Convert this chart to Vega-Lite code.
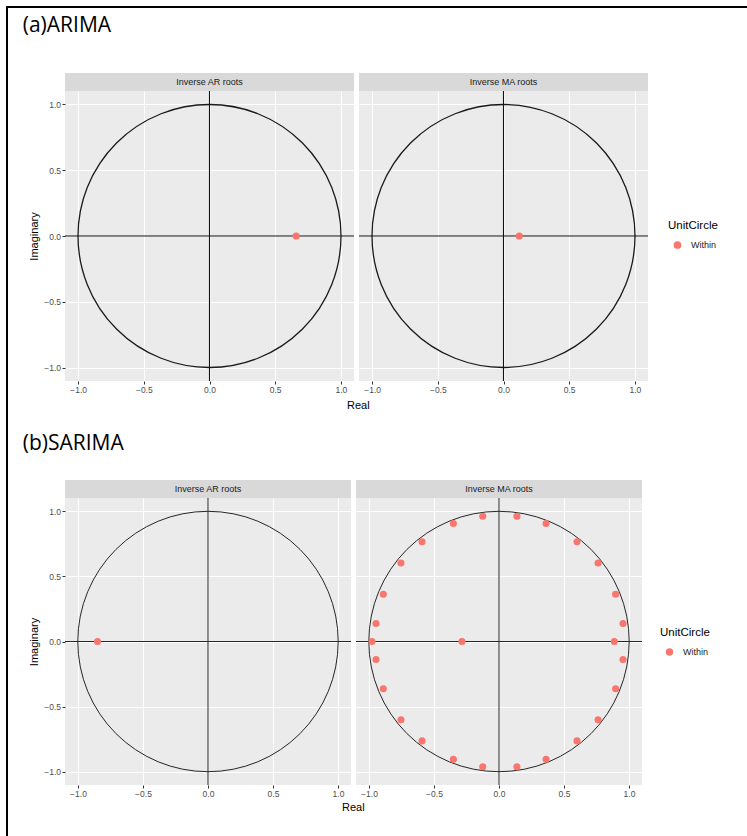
{
  "$schema": "https://vega.github.io/schema/vega-lite/v6.json",
  "padding": {"left": 6, "top": 6, "right": 0, "bottom": 0},
  "background": "#FFFFFF",
  "datasets": {
    "arima_ar": [{"re": 0.66, "im": 0, "UnitCircle": "Within"}],
    "arima_ma": [{"re": 0.12, "im": 0, "UnitCircle": "Within"}],
    "sarima_ar": [{"re": -0.85, "im": 0, "UnitCircle": "Within"}],
    "sarima_ma": [
      {"re": -0.125, "im": 0.96, "UnitCircle": "Within"},
      {"re": 0.138, "im": 0.96, "UnitCircle": "Within"},
      {"re": -0.351, "im": 0.904, "UnitCircle": "Within"},
      {"re": 0.362, "im": 0.904, "UnitCircle": "Within"},
      {"re": -0.592, "im": 0.765, "UnitCircle": "Within"},
      {"re": 0.6, "im": 0.765, "UnitCircle": "Within"},
      {"re": -0.754, "im": 0.602, "UnitCircle": "Within"},
      {"re": 0.762, "im": 0.602, "UnitCircle": "Within"},
      {"re": -0.89, "im": 0.362, "UnitCircle": "Within"},
      {"re": 0.897, "im": 0.362, "UnitCircle": "Within"},
      {"re": -0.946, "im": 0.138, "UnitCircle": "Within"},
      {"re": 0.954, "im": 0.138, "UnitCircle": "Within"},
      {"re": -0.977, "im": 0, "UnitCircle": "Within"},
      {"re": -0.285, "im": 0, "UnitCircle": "Within"},
      {"re": 0.887, "im": 0, "UnitCircle": "Within"},
      {"re": -0.946, "im": -0.138, "UnitCircle": "Within"},
      {"re": 0.954, "im": -0.138, "UnitCircle": "Within"},
      {"re": -0.89, "im": -0.362, "UnitCircle": "Within"},
      {"re": 0.897, "im": -0.362, "UnitCircle": "Within"},
      {"re": -0.754, "im": -0.6, "UnitCircle": "Within"},
      {"re": 0.762, "im": -0.6, "UnitCircle": "Within"},
      {"re": -0.592, "im": -0.762, "UnitCircle": "Within"},
      {"re": 0.6, "im": -0.762, "UnitCircle": "Within"},
      {"re": -0.351, "im": -0.902, "UnitCircle": "Within"},
      {"re": 0.362, "im": -0.902, "UnitCircle": "Within"},
      {"re": -0.125, "im": -0.961, "UnitCircle": "Within"},
      {"re": 0.138, "im": -0.961, "UnitCircle": "Within"}
    ]
  },
  "config": {
    "view": {"stroke": null},
    "font": "Liberation Sans",
    "axis": {
      "grid": true,
      "gridColor": "#FFFFFF",
      "domain": false,
      "tickColor": "#333333",
      "tickSize": 3,
      "tickWidth": 1,
      "labelFont": "Liberation Sans",
      "labelFontSize": 8.5,
      "labelColor": "#4D4D4D",
      "labelPadding": 1.5,
      "labelOverlap": false,
      "labelFlush": false,
      "labelBound": false,
      "titleFont": "Liberation Sans",
      "titleFontSize": 11,
      "titleFontWeight": "normal",
      "titleColor": "#000000",
      "titlePadding": 4
    }
  },
  "spacing": 0,
  "resolve": {"scale": {"color": "independent"}},
  "vconcat": [
    {
      "width": 741, "height": 2,
      "view": {"fill": "#000000", "stroke": null},
      "data": {"values": []},
      "mark": "point"
    },
    {
      "spacing": 14,
      "resolve": {"scale": {"color": "independent"}},
      "hconcat": [
        {
          "width": 2, "height": 828,
          "view": {"fill": "#000000", "stroke": null},
          "data": {"values": []},
          "mark": "point"
        },
        {
          "spacing": 0,
          "resolve": {"scale": {"color": "independent"}},
          "vconcat": [
            {"width": 1, "height": 7, "view": {"stroke": null}, "data": {"values": []}, "mark": "point"},
            {
              "title": {"text": "(a)ARIMA", "anchor": "start", "frame": "bounds", "dx": -6, "offset": 37, "font": "Open Sans", "fontSize": 21, "fontWeight": "normal", "color": "#000000"},
              "resolve": {"scale": {"color": "independent"}},
              "vconcat": [
                {
                  "title": {"text": "Real", "orient": "bottom", "anchor": "middle", "offset": 6, "dx": -15, "font": "Liberation Sans", "fontSize": 11, "fontWeight": "normal", "color": "#000000"},
                  "spacing": 3,
                  "resolve": {"scale": {"color": "independent"}},
                  "hconcat": [
                    {
                      "spacing": 0,
                      "bounds": "flush",
                      "resolve": {"scale": {"color": "independent"}},
                      "vconcat": [
                        {
                          "width": 289, "height": 18,
                          "view": {"fill": "#D9D9D9", "stroke": null},
                          "data": {"values": [{"strip": "Inverse AR roots"}]},
                          "mark": {"type": "text", "font": "Liberation Sans", "fontSize": 9, "color": "#1A1A1A", "baseline": "middle"},
                          "encoding": {"text": {"field": "strip"}}
                        },
                        {
                          "width": 289, "height": 290,
                          "view": {"fill": "#EBEBEB", "stroke": null},
                          "layer": [
                            {
                              "data": {"name": "arima_ar"},
                              "mark": {"type": "point", "shape": "circle", "filled": true, "opacity": 0},
                              "encoding": {
                                "x": {"field": "re", "type": "quantitative", "scale": {"domain": [-1.1, 1.1], "nice": false, "zero": false},
                                  "axis": {"values": [-1, -0.75, -0.5, -0.25, 0, 0.25, 0.5, 0.75, 1], "title": null,
                                    "labelExpr": "abs(datum.value*2-round(datum.value*2))<0.01 ? format(datum.value,'.1f') : ''",
                                    "gridWidth": {"condition": {"test": "abs(datum.value*2-round(datum.value*2))>0.01", "value": 0.6}, "value": 1.1},
                                    "tickOpacity": {"condition": {"test": "abs(datum.value*2-round(datum.value*2))>0.01", "value": 0}, "value": 1}}},
                                "y": {"field": "im", "type": "quantitative", "scale": {"domain": [-1.1, 1.1], "nice": false, "zero": false},
                                  "axis": {"values": [-1, -0.75, -0.5, -0.25, 0, 0.25, 0.5, 0.75, 1], "title": "Imaginary",
                                    "labelExpr": "abs(datum.value*2-round(datum.value*2))<0.01 ? format(datum.value,'.1f') : ''",
                                    "gridWidth": {"condition": {"test": "abs(datum.value*2-round(datum.value*2))>0.01", "value": 0.6}, "value": 1.1},
                                    "tickOpacity": {"condition": {"test": "abs(datum.value*2-round(datum.value*2))>0.01", "value": 0}, "value": 1}}}
                              }
                            },
                            {
                              "data": {"values": [{}]},
                              "mark": {"type": "point", "shape": "circle", "filled": false, "stroke": "#1A1A1A", "strokeWidth": 1.3, "opacity": 1, "size": 69169},
                              "encoding": {"x": {"datum": 0, "type": "quantitative"}, "y": {"datum": 0, "type": "quantitative"}}
                            },
                            {
                              "data": {"values": [{}]},
                              "mark": {"type": "rule", "color": "#111111", "strokeWidth": 1.1},
                              "encoding": {"x": {"datum": 0, "type": "quantitative"}}
                            },
                            {
                              "data": {"values": [{}]},
                              "mark": {"type": "rule", "color": "#111111", "strokeWidth": 1.1},
                              "encoding": {"y": {"datum": 0, "type": "quantitative"}}
                            },
                            {
                              "data": {"name": "arima_ar"},
                              "mark": {"type": "point", "shape": "circle", "filled": true, "opacity": 1, "size": 52},
                              "encoding": {
                                "x": {"field": "re", "type": "quantitative"},
                                "y": {"field": "im", "type": "quantitative"},
                                "color": {"field": "UnitCircle", "type": "nominal", "scale": {"domain": ["Within"], "range": ["#F8766D"]}, "legend": null}
                              }
                            }
                          ]
                        }
                      ]
                    },
                    {
                      "spacing": 0,
                      "bounds": "flush",
                      "resolve": {"scale": {"color": "independent"}},
                      "vconcat": [
                        {
                          "width": 289, "height": 18,
                          "view": {"fill": "#D9D9D9", "stroke": null},
                          "data": {"values": [{"strip": "Inverse MA roots"}]},
                          "mark": {"type": "text", "font": "Liberation Sans", "fontSize": 9, "color": "#1A1A1A", "baseline": "middle"},
                          "encoding": {"text": {"field": "strip"}}
                        },
                        {
                          "width": 289, "height": 290,
                          "view": {"fill": "#EBEBEB", "stroke": null},
                          "layer": [
                            {
                              "data": {"name": "arima_ma"},
                              "mark": {"type": "point", "shape": "circle", "filled": true, "opacity": 0},
                              "encoding": {
                                "x": {"field": "re", "type": "quantitative", "scale": {"domain": [-1.1, 1.1], "nice": false, "zero": false},
                                  "axis": {"values": [-1, -0.75, -0.5, -0.25, 0, 0.25, 0.5, 0.75, 1], "title": null,
                                    "labelExpr": "abs(datum.value*2-round(datum.value*2))<0.01 ? format(datum.value,'.1f') : ''",
                                    "gridWidth": {"condition": {"test": "abs(datum.value*2-round(datum.value*2))>0.01", "value": 0.6}, "value": 1.1},
                                    "tickOpacity": {"condition": {"test": "abs(datum.value*2-round(datum.value*2))>0.01", "value": 0}, "value": 1}}},
                                "y": {"field": "im", "type": "quantitative", "scale": {"domain": [-1.1, 1.1], "nice": false, "zero": false},
                                  "axis": {"values": [-1, -0.75, -0.5, -0.25, 0, 0.25, 0.5, 0.75, 1], "title": null, "labels": false, "ticks": false,
                                    "gridWidth": {"condition": {"test": "abs(datum.value*2-round(datum.value*2))>0.01", "value": 0.6}, "value": 1.1}}}
                              }
                            },
                            {
                              "data": {"values": [{}]},
                              "mark": {"type": "point", "shape": "circle", "filled": false, "stroke": "#1A1A1A", "strokeWidth": 1.3, "opacity": 1, "size": 69169},
                              "encoding": {"x": {"datum": 0, "type": "quantitative"}, "y": {"datum": 0, "type": "quantitative"}}
                            },
                            {
                              "data": {"values": [{}]},
                              "mark": {"type": "rule", "color": "#111111", "strokeWidth": 1.1},
                              "encoding": {"x": {"datum": 0, "type": "quantitative"}}
                            },
                            {
                              "data": {"values": [{}]},
                              "mark": {"type": "rule", "color": "#111111", "strokeWidth": 1.1},
                              "encoding": {"y": {"datum": 0, "type": "quantitative"}}
                            },
                            {
                              "data": {"name": "arima_ma"},
                              "mark": {"type": "point", "shape": "circle", "filled": true, "opacity": 1, "size": 52},
                              "encoding": {
                                "x": {"field": "re", "type": "quantitative"},
                                "y": {"field": "im", "type": "quantitative"},
                                "color": {"field": "UnitCircle", "type": "nominal", "scale": {"domain": ["Within"], "range": ["#F8766D"]},
                                  "legend": {"orient": "none", "legendX": 309, "legendY": 129, "title": "UnitCircle", "padding": 0,
                                    "titleFont": "Liberation Sans", "titleFontSize": 11.5, "titleFontWeight": "normal", "titleColor": "#000000", "titlePadding": 9,
                                    "labelFont": "Liberation Sans", "labelFontSize": 9, "labelColor": "#1A1A1A",
                                    "symbolType": "circle", "symbolSize": 60, "symbolStrokeWidth": 0, "symbolOffset": 5, "labelOffset": 9}}
                              }
                            }
                          ]
                        }
                      ]
                    }
                  ]
                }
              ]
            },
            {"width": 1, "height": 22, "view": {"stroke": null}, "data": {"values": []}, "mark": "point"},
            {
              "title": {"text": "(b)SARIMA", "anchor": "start", "frame": "bounds", "dx": -6, "offset": 26, "font": "Open Sans", "fontSize": 21, "fontWeight": "normal", "color": "#000000"},
              "resolve": {"scale": {"color": "independent"}},
              "vconcat": [
                {
                  "title": {"text": "Real", "orient": "bottom", "anchor": "middle", "offset": 4, "dx": -16, "font": "Liberation Sans", "fontSize": 11, "fontWeight": "normal", "color": "#000000"},
                  "spacing": 3,
                  "resolve": {"scale": {"color": "independent"}},
                  "hconcat": [
                    {
                      "spacing": 0,
                      "bounds": "flush",
                      "resolve": {"scale": {"color": "independent"}},
                      "vconcat": [
                        {
                          "width": 286, "height": 18,
                          "view": {"fill": "#D9D9D9", "stroke": null},
                          "data": {"values": [{"strip": "Inverse AR roots"}]},
                          "mark": {"type": "text", "font": "Liberation Sans", "fontSize": 9, "color": "#1A1A1A", "baseline": "middle"},
                          "encoding": {"text": {"field": "strip"}}
                        },
                        {
                          "width": 286, "height": 287,
                          "view": {"fill": "#EBEBEB", "stroke": null},
                          "layer": [
                            {
                              "data": {"name": "sarima_ar"},
                              "mark": {"type": "point", "shape": "circle", "filled": true, "opacity": 0},
                              "encoding": {
                                "x": {"field": "re", "type": "quantitative", "scale": {"domain": [-1.1, 1.1], "nice": false, "zero": false},
                                  "axis": {"values": [-1, -0.75, -0.5, -0.25, 0, 0.25, 0.5, 0.75, 1], "title": null,
                                    "labelExpr": "abs(datum.value*2-round(datum.value*2))<0.01 ? format(datum.value,'.1f') : ''",
                                    "gridWidth": {"condition": {"test": "abs(datum.value*2-round(datum.value*2))>0.01", "value": 0.6}, "value": 1.1},
                                    "tickOpacity": {"condition": {"test": "abs(datum.value*2-round(datum.value*2))>0.01", "value": 0}, "value": 1}}},
                                "y": {"field": "im", "type": "quantitative", "scale": {"domain": [-1.1, 1.1], "nice": false, "zero": false},
                                  "axis": {"values": [-1, -0.75, -0.5, -0.25, 0, 0.25, 0.5, 0.75, 1], "title": "Imaginary",
                                    "labelExpr": "abs(datum.value*2-round(datum.value*2))<0.01 ? format(datum.value,'.1f') : ''",
                                    "gridWidth": {"condition": {"test": "abs(datum.value*2-round(datum.value*2))>0.01", "value": 0.6}, "value": 1.1},
                                    "tickOpacity": {"condition": {"test": "abs(datum.value*2-round(datum.value*2))>0.01", "value": 0}, "value": 1}}}
                              }
                            },
                            {
                              "data": {"values": [{}]},
                              "mark": {"type": "point", "shape": "circle", "filled": false, "stroke": "#262626", "strokeWidth": 1, "opacity": 1, "size": 67808},
                              "encoding": {"x": {"datum": 0, "type": "quantitative"}, "y": {"datum": 0, "type": "quantitative"}}
                            },
                            {
                              "data": {"values": [{}]},
                              "mark": {"type": "rule", "color": "#262626", "strokeWidth": 1},
                              "encoding": {"x": {"datum": 0, "type": "quantitative"}}
                            },
                            {
                              "data": {"values": [{}]},
                              "mark": {"type": "rule", "color": "#262626", "strokeWidth": 1},
                              "encoding": {"y": {"datum": 0, "type": "quantitative"}}
                            },
                            {
                              "data": {"name": "sarima_ar"},
                              "mark": {"type": "point", "shape": "circle", "filled": true, "opacity": 1, "size": 50},
                              "encoding": {
                                "x": {"field": "re", "type": "quantitative"},
                                "y": {"field": "im", "type": "quantitative"},
                                "color": {"field": "UnitCircle", "type": "nominal", "scale": {"domain": ["Within"], "range": ["#F8766D"]}, "legend": null}
                              }
                            }
                          ]
                        }
                      ]
                    },
                    {
                      "spacing": 0,
                      "bounds": "flush",
                      "resolve": {"scale": {"color": "independent"}},
                      "vconcat": [
                        {
                          "width": 286, "height": 18,
                          "view": {"fill": "#D9D9D9", "stroke": null},
                          "data": {"values": [{"strip": "Inverse MA roots"}]},
                          "mark": {"type": "text", "font": "Liberation Sans", "fontSize": 9, "color": "#1A1A1A", "baseline": "middle"},
                          "encoding": {"text": {"field": "strip"}}
                        },
                        {
                          "width": 286, "height": 287,
                          "view": {"fill": "#EBEBEB", "stroke": null},
                          "layer": [
                            {
                              "data": {"name": "sarima_ma"},
                              "mark": {"type": "point", "shape": "circle", "filled": true, "opacity": 0},
                              "encoding": {
                                "x": {"field": "re", "type": "quantitative", "scale": {"domain": [-1.1, 1.1], "nice": false, "zero": false},
                                  "axis": {"values": [-1, -0.75, -0.5, -0.25, 0, 0.25, 0.5, 0.75, 1], "title": null,
                                    "labelExpr": "abs(datum.value*2-round(datum.value*2))<0.01 ? format(datum.value,'.1f') : ''",
                                    "gridWidth": {"condition": {"test": "abs(datum.value*2-round(datum.value*2))>0.01", "value": 0.6}, "value": 1.1},
                                    "tickOpacity": {"condition": {"test": "abs(datum.value*2-round(datum.value*2))>0.01", "value": 0}, "value": 1}}},
                                "y": {"field": "im", "type": "quantitative", "scale": {"domain": [-1.1, 1.1], "nice": false, "zero": false},
                                  "axis": {"values": [-1, -0.75, -0.5, -0.25, 0, 0.25, 0.5, 0.75, 1], "title": null, "labels": false, "ticks": false,
                                    "gridWidth": {"condition": {"test": "abs(datum.value*2-round(datum.value*2))>0.01", "value": 0.6}, "value": 1.1}}}
                              }
                            },
                            {
                              "data": {"values": [{}]},
                              "mark": {"type": "point", "shape": "circle", "filled": false, "stroke": "#262626", "strokeWidth": 1, "opacity": 1, "size": 67808},
                              "encoding": {"x": {"datum": 0, "type": "quantitative"}, "y": {"datum": 0, "type": "quantitative"}}
                            },
                            {
                              "data": {"values": [{}]},
                              "mark": {"type": "rule", "color": "#262626", "strokeWidth": 1},
                              "encoding": {"x": {"datum": 0, "type": "quantitative"}}
                            },
                            {
                              "data": {"values": [{}]},
                              "mark": {"type": "rule", "color": "#262626", "strokeWidth": 1},
                              "encoding": {"y": {"datum": 0, "type": "quantitative"}}
                            },
                            {
                              "data": {"name": "sarima_ma"},
                              "mark": {"type": "point", "shape": "circle", "filled": true, "opacity": 1, "size": 50},
                              "encoding": {
                                "x": {"field": "re", "type": "quantitative"},
                                "y": {"field": "im", "type": "quantitative"},
                                "color": {"field": "UnitCircle", "type": "nominal", "scale": {"domain": ["Within"], "range": ["#F8766D"]},
                                  "legend": {"orient": "none", "legendX": 304, "legendY": 129, "title": "UnitCircle", "padding": 0,
                                    "titleFont": "Liberation Sans", "titleFontSize": 11.5, "titleFontWeight": "normal", "titleColor": "#000000", "titlePadding": 9,
                                    "labelFont": "Liberation Sans", "labelFontSize": 9, "labelColor": "#1A1A1A",
                                    "symbolType": "circle", "symbolSize": 55, "symbolStrokeWidth": 0, "symbolOffset": 5, "labelOffset": 9}}
                              }
                            }
                          ]
                        }
                      ]
                    }
                  ]
                }
              ]
            }
          ]
        }
      ]
    }
  ]
}
